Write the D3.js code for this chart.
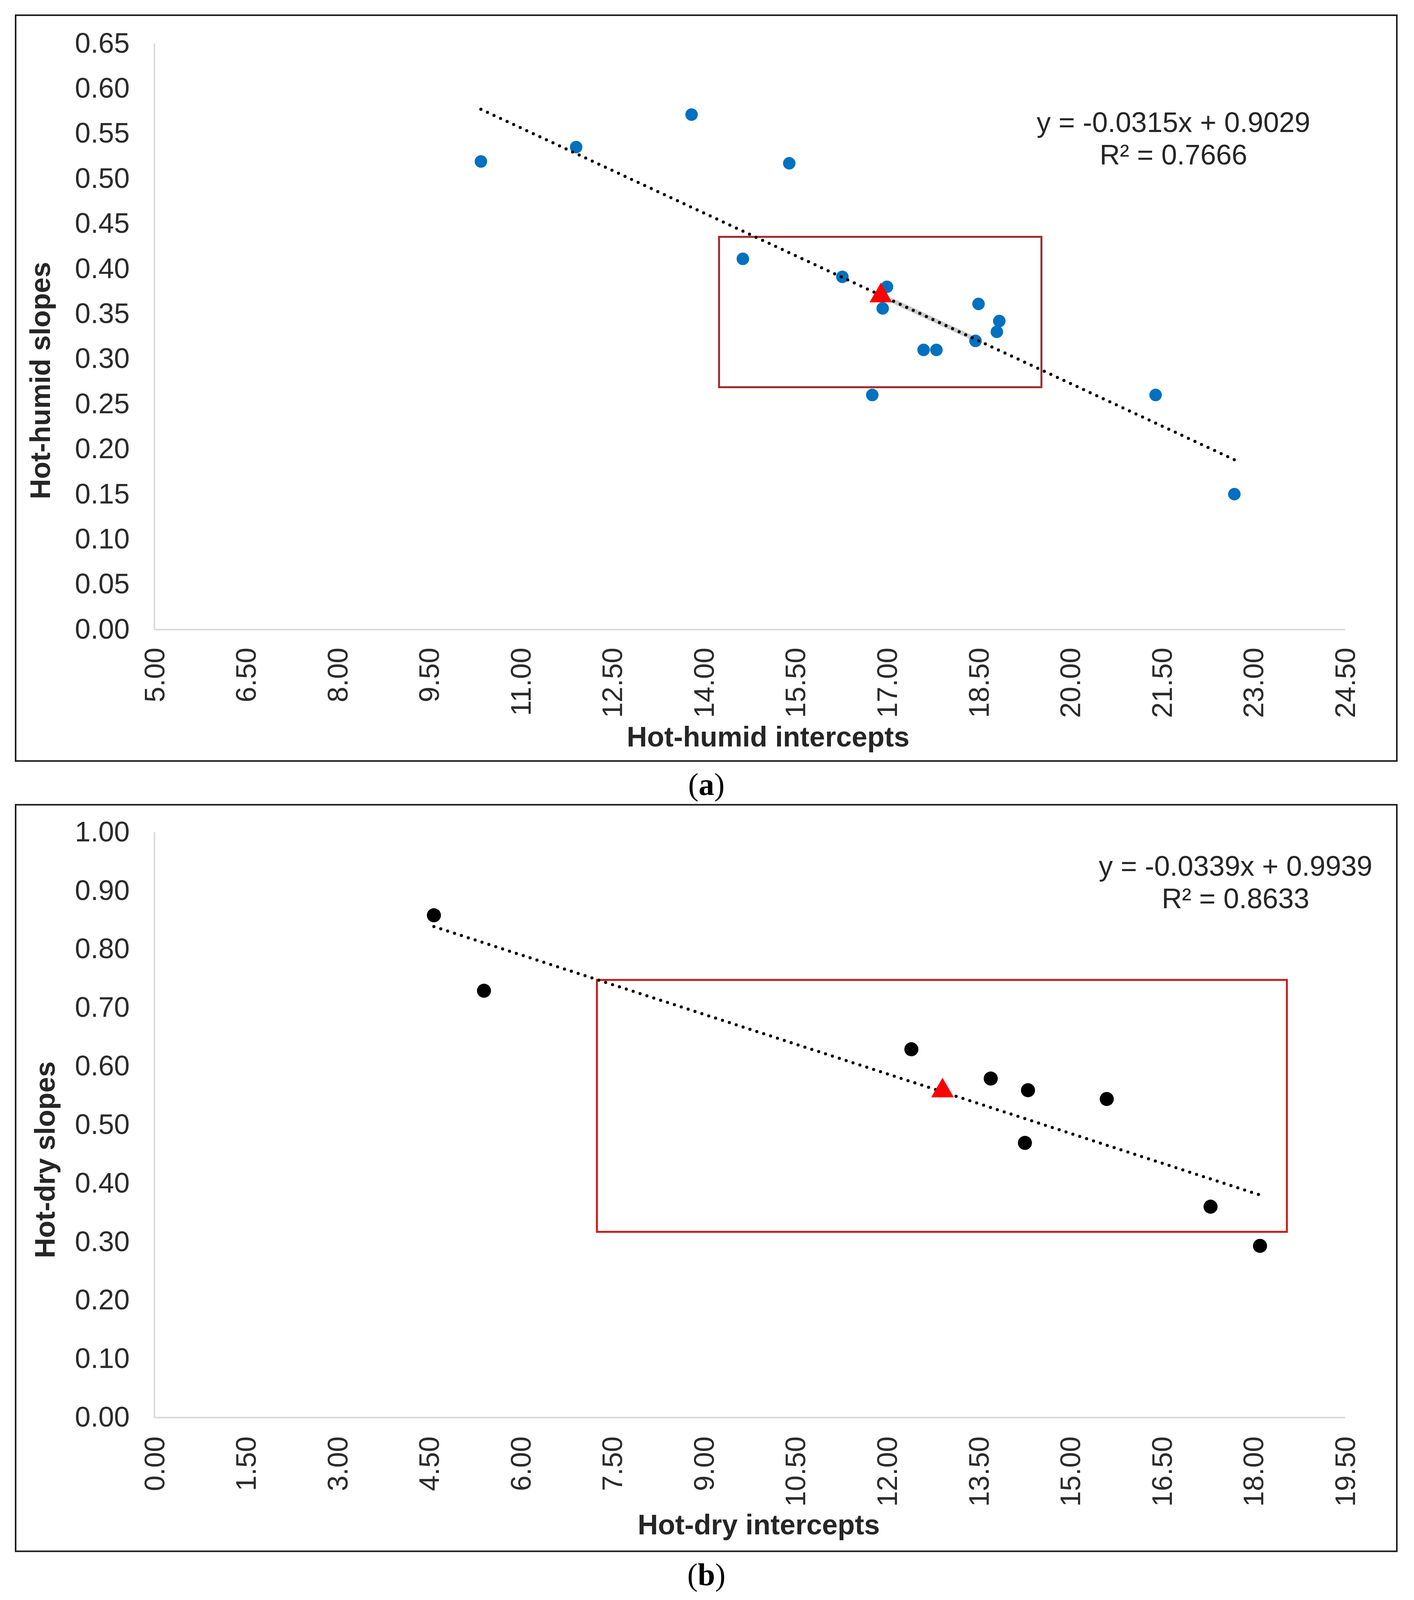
<!DOCTYPE html>
<html>
<head>
<meta charset="utf-8">
<script src="https://cdn.jsdelivr.net/npm/d3@7"></script>
<style>
  html, body { margin: 0; padding: 0; background: #ffffff; overflow: hidden; }
  svg { display: block; }
</style>
</head>
<body>
<script>
// ---------------- DATA ----------------
// Panel (a): hot-humid
const humidX = [10.35, 11.91, 13.80, 15.40, 14.64, 16.27, 17.00, 16.93, 18.50, 18.84, 18.80, 18.45, 17.60, 17.81, 16.76, 21.40, 22.69];
const humidY = [0.519, 0.535, 0.571, 0.517, 0.411, 0.391, 0.380, 0.356, 0.361, 0.342, 0.330, 0.320, 0.310, 0.310, 0.260, 0.260, 0.150];
const humidTriangle = [16.90, 0.370];
const humidTrend = { slope: -0.0315, intercept: 0.9029 };
const humidEquation = ["y = -0.0315x + 0.9029", "R\u00B2 = 0.7666"];
const humidBox = [14.25, 19.53, 0.2686, 0.4354];      // x0, x1, y0, y1 (data units)
const humidHighlight = [17.08, 18.36];                 // grey shaded segment along trendline (x range)
const humidXTicks = ["5.00","6.50","8.00","9.50","11.00","12.50","14.00","15.50","17.00","18.50","20.00","21.50","23.00","24.50"];
const humidYTicks = ["0.00","0.05","0.10","0.15","0.20","0.25","0.30","0.35","0.40","0.45","0.50","0.55","0.60","0.65"];

// Panel (b): hot-dry
const dryX = [4.58, 5.40, 12.40, 13.70, 14.31, 14.26, 15.60, 17.30, 18.11];
const dryY = [0.858, 0.729, 0.629, 0.579, 0.559, 0.469, 0.544, 0.360, 0.293];
const dryTriangle = [12.91, 0.558];
const dryTrend = { slope: -0.0339, intercept: 0.9939 };
const dryEquation = ["y = -0.0339x + 0.9939", "R\u00B2 = 0.8633"];
const dryBox = [7.25, 18.55, 0.317, 0.7475];
const dryXTicks = ["0.00","1.50","3.00","4.50","6.00","7.50","9.00","10.50","12.00","13.50","15.00","16.50","18.00","19.50"];
const dryYTicks = ["0.00","0.10","0.20","0.30","0.40","0.50","0.60","0.70","0.80","0.90","1.00"];

// ---------------- LAYOUT ----------------
const W = 3621, H = 4205;
// the visible viewport may be shorter than the requested window: fit vertically
const K = Math.min(1, (window.innerHeight || H) / H);
const sy = v => v * K;
const FONT = "'Liberation Sans', Arial, Helvetica, sans-serif";
const SERIF = "'Liberation Serif', 'Times New Roman', serif";

const svg = d3.select("body").append("svg")
  .attr("width", W).attr("height", Math.floor(H * K));

svg.append("rect").attr("width", W).attr("height", H * K).attr("fill", "#ffffff");

function drawPanel(cfg) {
  const g = svg.append("g");

  // frame
  g.append("rect")
    .attr("x", cfg.frame[0]).attr("y", sy(cfg.frame[1]))
    .attr("width", cfg.frame[2] - cfg.frame[0]).attr("height", sy(cfg.frame[3] - cfg.frame[1]))
    .attr("fill", "none").attr("stroke", "#1c1c1c").attr("stroke-width", 4);

  const xVals = cfg.xTicks.map(Number);
  const yVals = cfg.yTicks.map(Number);
  const x = d3.scaleLinear().domain([xVals[0], xVals[xVals.length - 1]]).range([cfg.plot.left, cfg.plot.right]);
  const y = d3.scaleLinear().domain([yVals[0], yVals[yVals.length - 1]]).range([sy(cfg.plot.bottom), sy(cfg.plot.top)]);

  // y axis
  const yAxis = d3.axisLeft(y).tickValues(yVals).tickFormat(d3.format(".2f")).tickSize(0).tickPadding(63);
  const yg = g.append("g").attr("transform", `translate(${cfg.plot.left},0)`).call(yAxis);
  yg.select(".domain").attr("stroke", "#d9d9d9").attr("stroke-width", 4);
  yg.selectAll("text").attr("font-family", FONT).attr("font-size", 72).attr("fill", "#2b2b2b");

  // x axis
  const xAxis = d3.axisBottom(x).tickValues(xVals).tickFormat(d3.format(".2f")).tickSize(0);
  const xg = g.append("g").attr("transform", `translate(0,${sy(cfg.plot.bottom)})`).call(xAxis);
  xg.select(".domain").attr("stroke", "#d9d9d9").attr("stroke-width", 4);
  xg.selectAll("text")
    .attr("font-family", FONT).attr("font-size", 72).attr("fill", "#2b2b2b")
    .attr("text-anchor", "end")
    .attr("x", 0).attr("y", 0)
    .attr("dy", "0.35em")
    .attr("transform", `translate(0,${sy(cfg.xLabelOffset)}) rotate(-90)`);

  // axis titles
  g.append("text")
    .attr("transform", `translate(${cfg.yTitle[0]},${sy(cfg.yTitle[1])}) rotate(-90)`)
    .attr("text-anchor", "middle")
    .attr("font-family", FONT).attr("font-size", 72).attr("font-weight", "bold").attr("fill", "#262626")
    .text(cfg.yTitleText);
  g.append("text")
    .attr("x", cfg.xTitle[0]).attr("y", sy(cfg.xTitle[1]))
    .attr("text-anchor", "middle")
    .attr("font-family", FONT).attr("font-size", 72).attr("font-weight", "bold").attr("fill", "#262626")
    .text(cfg.xTitleText);

  // highlight box
  g.append("rect")
    .attr("x", x(cfg.box[0])).attr("y", y(cfg.box[3]))
    .attr("width", x(cfg.box[1]) - x(cfg.box[0]))
    .attr("height", y(cfg.box[2]) - y(cfg.box[3]))
    .attr("fill", "none").attr("stroke", cfg.boxColor).attr("stroke-width", 5);

  const trend = v => cfg.trend.slope * v + cfg.trend.intercept;

  // grey shaded segment (panel a only)
  if (cfg.highlight) {
    g.append("line")
      .attr("x1", x(cfg.highlight[0])).attr("y1", y(trend(cfg.highlight[0])))
      .attr("x2", x(cfg.highlight[1])).attr("y2", y(trend(cfg.highlight[1])))
      .attr("stroke", "#c4c4c4").attr("stroke-width", 12).attr("stroke-linecap", "round")
      .attr("opacity", 0.85);
  }

  // points
  const pts = cfg.xs.map((v, i) => [v, cfg.ys[i]]);
  g.append("g").selectAll("circle").data(pts).join("circle")
    .attr("cx", d => x(d[0])).attr("cy", d => y(d[1]))
    .attr("r", cfg.r).attr("fill", cfg.color);

  // trendline (dotted) across data range
  const xmin = d3.min(cfg.xs), xmax = d3.max(cfg.xs);
  g.append("line")
    .attr("x1", x(xmin)).attr("y1", y(trend(xmin)))
    .attr("x2", x(xmax)).attr("y2", y(trend(xmax)))
    .attr("stroke", "#000").attr("stroke-width", 8)
    .attr("stroke-linecap", "round")
    .attr("stroke-dasharray", "0 18.5");

  // triangle marker
  const tri = d3.symbol().type(d3.symbolTriangle).size(1450);
  g.append("path")
    .attr("d", tri())
    .attr("transform", `translate(${x(cfg.triangle[0])},${y(cfg.triangle[1])})`)
    .attr("fill", "#ff0000");

  // equation
  const eq = g.append("text")
    .attr("text-anchor", "middle")
    .attr("font-family", FONT).attr("font-size", 72).attr("fill", "#262626");
  eq.append("tspan").attr("x", cfg.eqPos[0]).attr("y", sy(cfg.eqPos[1])).text(cfg.equation[0]);
  eq.append("tspan").attr("x", cfg.eqPos[0]).attr("y", sy(cfg.eqPos[1] + 85)).text(cfg.equation[1]);

  // caption
  const cap = svg.append("text")
    .attr("x", cfg.caption[0]).attr("y", sy(cfg.caption[1]))
    .attr("text-anchor", "middle")
    .attr("font-family", SERIF).attr("font-size", 80).attr("fill", "#000");
  cap.append("tspan").text("(");
  cap.append("tspan").attr("font-weight", "bold").text(cfg.captionLetter);
  cap.append("tspan").text(")");
}

drawPanel({
  frame: [40, 40, 3577, 2000],
  plot: { left: 395, right: 3444, top: 114, bottom: 1654 },
  xTicks: humidXTicks, yTicks: humidYTicks,
  xLabelOffset: 48,
  yTitle: [128, 1000], yTitleText: "Hot-humid slopes",
  xTitle: [1967, 1962], xTitleText: "Hot-humid intercepts",
  xs: humidX, ys: humidY, color: "#0070c0", r: 16,
  triangle: humidTriangle,
  trend: humidTrend,
  highlight: humidHighlight,
  box: humidBox, boxColor: "#9e2a2b",
  equation: humidEquation, eqPos: [3005, 347],
  caption: [1809, 2089], captionLetter: "a"
});

drawPanel({
  frame: [40, 2115, 3577, 4077],
  plot: { left: 395, right: 3444, top: 2187, bottom: 3725 },
  xTicks: dryXTicks, yTicks: dryYTicks,
  xLabelOffset: 50,
  yTitle: [140, 3048], yTitleText: "Hot-dry slopes",
  xTitle: [1943, 4033], xTitleText: "Hot-dry intercepts",
  xs: dryX, ys: dryY, color: "#000000", r: 18,
  triangle: dryTriangle,
  trend: dryTrend,
  highlight: null,
  box: dryBox, boxColor: "#c81e1e",
  equation: dryEquation, eqPos: [3164, 2302],
  caption: [1809, 4166], captionLetter: "b"
});
</script>
</body>
</html>
